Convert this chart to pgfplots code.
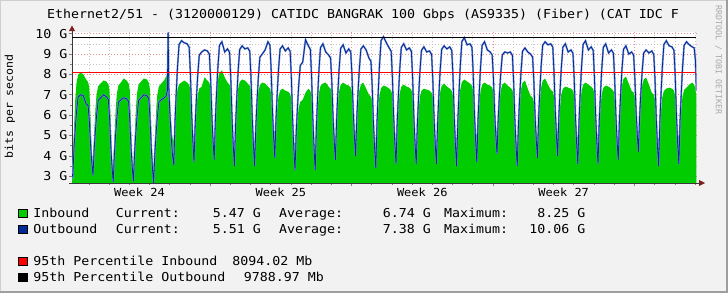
\documentclass[border=0pt]{standalone}
\usepackage{pgfplots}
\pgfplotsset{compat=1.18}
\usepackage{pgfplotstable}
\usepackage{fontspec}
\newfontfamily\dvm[FakeStretch=1.08]{DejaVu Sans Mono}
\newfontfamily\dvmw{DejaVu Sans Mono}
\definecolor{bg}{HTML}{F2F2F2}
\definecolor{inb}{HTML}{00CC00}
\definecolor{outb}{HTML}{002A97}
\definecolor{outl}{HTML}{7B93D2}
\definecolor{mgrid}{HTML}{E89090}
\definecolor{ngrid}{HTML}{C4C4C4}
\definecolor{arrowc}{HTML}{7F1F1F}
\definecolor{axisc}{HTML}{3A3A3A}
\definecolor{shadeb}{HTML}{9E9E9E}
\definecolor{shadea}{HTML}{CFCFCF}
\definecolor{wm}{HTML}{A8A8A8}

\pgfplotstableread{
d in out
0.16 3.80 3.10
0.20 3.50 3.00
0.26 5.43 4.40
0.32 6.72 5.32
0.38 7.55 6.12
0.46 7.96 6.88
0.58 8.10 7.00
0.72 8.00 6.95
0.86 7.75 6.55
0.96 7.62 6.45
1.02 7.32 5.68
1.08 5.79 4.52
1.14 4.18 3.68
1.20 3.40 3.05
1.26 5.14 4.38
1.32 6.31 5.25
1.38 7.05 6.01
1.46 7.43 6.74
1.58 7.55 6.85
1.72 7.70 7.00
1.86 7.65 6.90
1.96 7.51 6.77
2.02 7.19 5.86
2.08 5.56 4.48
2.14 3.84 3.48
2.20 3.00 2.73
2.26 4.93 4.14
2.32 6.22 5.06
2.38 7.05 5.87
2.46 7.46 6.63
2.58 7.60 6.75
2.72 7.80 6.85
2.86 7.70 6.80
2.96 7.56 6.68
3.02 7.22 5.79
3.08 5.54 4.45
3.14 3.76 3.48
3.20 2.90 2.75
3.26 4.90 4.19
3.32 6.23 5.13
3.38 7.08 5.95
3.46 7.51 6.73
3.58 7.65 6.85
3.72 7.80 7.00
3.86 7.75 6.95
3.96 7.60 6.82
4.02 7.25 5.88
4.08 5.50 4.47
4.14 3.65 3.44
4.20 2.75 2.67
4.26 4.77 4.10
4.32 6.11 5.04
4.38 6.97 5.85
4.46 7.41 6.63
4.58 7.55 6.75
4.72 7.70 6.85
4.82 7.90 6.95
4.88 8.00 7.20
4.92 8.05 10.06
4.95 7.70 7.40
5.00 6.80 6.20
5.06 5.70 5.10
5.13 4.90 4.10
5.20 4.70 3.55
5.26 5.92 5.69
5.32 6.73 7.09
5.38 7.25 8.31
5.46 7.51 9.47
5.58 7.60 9.65
5.72 7.70 9.55
5.86 7.60 9.50
5.96 7.49 9.33
6.02 7.24 8.05
6.08 5.98 6.14
6.14 4.65 4.74
6.20 4.00 3.70
6.26 5.43 5.59
6.32 6.38 6.83
6.38 6.99 7.91
6.46 7.30 8.94
6.58 7.40 9.10
6.72 7.85 9.20
6.86 7.70 9.15
6.96 7.59 8.99
7.02 7.33 7.81
7.08 6.04 6.05
7.14 4.67 4.76
7.20 4.00 3.80
7.26 5.76 5.83
7.32 6.94 7.16
7.38 7.70 8.32
7.46 8.07 9.43
7.58 8.20 9.60
7.72 7.85 9.10
7.86 7.60 9.25
7.96 7.49 9.08
8.02 7.22 7.81
8.08 5.89 5.92
8.14 4.48 4.54
8.20 3.80 3.50
8.26 5.46 5.57
8.32 6.57 6.92
8.38 7.28 8.10
8.46 7.63 9.22
8.58 7.75 9.40
8.72 7.70 9.25
8.86 7.55 9.30
8.96 7.43 9.13
9.02 7.16 7.85
9.08 5.77 5.94
9.14 4.31 4.54
9.20 3.60 3.50
9.26 5.28 5.43
9.32 6.40 6.69
9.38 7.12 7.79
9.46 7.48 8.84
9.58 7.60 9.00
9.72 7.55 9.20
9.86 7.40 9.60
9.96 7.30 9.43
10.02 7.06 8.18
10.08 5.87 6.29
10.14 4.61 4.93
10.20 4.00 3.90
10.26 5.39 5.83
10.32 6.31 7.09
10.38 6.90 8.19
10.46 7.20 9.24
10.58 7.30 9.40
10.72 7.20 9.15
10.86 7.15 9.30
10.96 7.04 9.12
11.02 6.79 7.80
11.08 5.51 5.82
11.14 4.16 4.38
11.20 3.50 3.30
11.26 4.87 5.16
11.32 5.78 6.37
11.38 6.36 7.43
11.46 6.65 8.44
11.58 6.75 8.60
11.72 7.10 9.70
11.86 7.30 9.40
11.96 7.19 9.22
12.02 6.92 7.88
12.08 5.59 5.86
12.14 4.18 4.40
12.20 3.50 3.30
12.26 5.20 5.47
12.32 6.34 6.90
12.38 7.06 8.14
12.46 7.43 9.31
12.58 7.55 9.50
12.72 7.60 9.10
12.86 7.40 8.95
12.96 7.30 8.80
13.02 7.06 7.66
13.08 5.87 5.96
13.14 4.61 4.73
13.20 4.00 3.80
13.26 5.51 5.78
13.32 6.52 7.08
13.38 7.17 8.21
13.46 7.49 9.28
13.58 7.60 9.45
13.72 7.50 9.05
13.86 7.45 9.25
13.96 7.35 9.09
14.02 7.13 7.94
14.08 5.99 6.21
14.14 4.79 4.95
14.20 4.20 4.00
14.26 5.63 5.89
14.32 6.58 7.13
14.38 7.19 8.21
14.46 7.50 9.24
14.58 7.60 9.40
14.72 7.30 9.20
14.86 7.00 8.80
14.96 6.90 8.64
15.02 6.66 7.45
15.08 5.47 5.67
15.14 4.21 4.37
15.20 3.60 3.40
15.26 5.22 5.66
15.32 6.30 7.14
15.38 6.99 8.43
15.46 7.33 9.66
15.58 7.45 9.85
15.72 7.40 9.55
15.86 7.30 9.30
15.96 7.20 9.13
16.02 6.95 7.88
16.08 5.73 5.99
16.14 4.43 4.63
16.20 3.80 3.60
16.26 5.35 5.67
16.32 6.39 7.02
16.38 7.06 8.20
16.46 7.39 9.32
16.58 7.50 9.50
16.72 7.40 9.20
16.86 7.35 9.30
16.96 7.24 9.13
17.02 7.00 7.88
17.08 5.75 5.99
17.14 4.44 4.63
17.20 3.80 3.60
17.26 5.27 5.61
17.32 6.25 6.94
17.38 6.88 8.09
17.46 7.20 9.18
17.58 7.30 9.35
17.72 7.25 9.10
17.86 7.20 9.15
17.96 7.10 8.98
18.02 6.86 7.76
18.08 5.67 5.93
18.14 4.41 4.60
18.20 3.80 3.60
18.26 5.38 5.63
18.32 6.43 6.96
18.38 7.10 8.12
18.46 7.44 9.23
18.58 7.55 9.40
18.72 7.40 9.25
18.86 7.30 9.35
18.96 7.19 9.17
19.02 6.94 7.89
19.08 5.68 5.96
19.14 4.35 4.55
19.20 3.70 3.50
19.26 5.40 5.71
19.32 6.54 7.15
19.38 7.26 8.41
19.46 7.63 9.61
19.58 7.75 9.80
19.72 7.65 9.45
19.86 7.55 9.50
19.96 7.44 9.33
20.02 7.19 8.05
20.08 5.91 6.14
20.14 4.56 4.74
20.20 3.90 3.70
20.26 5.45 5.77
20.32 6.49 7.12
20.38 7.16 8.30
20.46 7.49 9.42
20.58 7.60 9.60
20.72 7.50 9.20
20.86 7.45 9.10
20.96 7.36 8.95
21.02 7.14 7.85
21.08 6.03 6.20
21.14 4.87 5.00
21.20 4.30 4.10
21.26 5.69 5.85
21.32 6.61 7.00
21.38 7.20 8.00
21.46 7.50 8.95
21.58 7.60 9.10
21.72 7.45 9.05
21.86 7.35 9.10
21.96 7.24 8.93
22.02 6.99 7.70
22.08 5.71 5.85
22.14 4.36 4.51
22.20 3.70 3.50
22.26 5.38 5.53
22.32 6.50 6.86
22.38 7.22 8.02
22.46 7.58 9.13
22.58 7.70 9.30
22.72 7.30 9.10
22.86 6.95 9.00
22.96 6.86 8.85
23.02 6.66 7.73
23.08 5.62 6.04
23.14 4.53 4.82
23.20 4.00 3.90
23.26 5.60 5.90
23.32 6.66 7.21
23.38 7.34 8.35
23.46 7.69 9.43
23.58 7.80 9.60
23.72 7.50 9.45
23.86 7.25 9.50
23.96 7.16 9.34
24.02 6.94 8.13
24.08 5.83 6.31
24.14 4.67 4.99
24.20 4.10 4.00
24.26 5.49 5.93
24.32 6.41 7.19
24.38 7.00 8.29
24.46 7.30 9.34
24.58 7.40 9.50
24.72 7.35 9.10
24.86 7.30 9.20
24.96 7.20 9.03
25.02 6.95 7.80
25.08 5.73 5.95
25.14 4.43 4.61
25.20 3.80 3.60
25.26 5.40 5.72
25.32 6.46 7.11
25.38 7.14 8.32
25.46 7.49 9.47
25.58 7.60 9.65
25.72 7.50 9.20
25.86 7.40 9.35
25.96 7.29 9.18
26.02 7.04 7.91
26.08 5.78 6.02
26.14 4.45 4.64
26.20 3.80 3.60
26.26 5.33 5.67
26.32 6.36 7.02
26.38 7.01 8.20
26.46 7.34 9.32
26.58 7.45 9.50
26.72 7.40 9.05
26.86 7.30 9.20
26.96 7.20 9.04
27.02 6.97 7.85
27.08 5.82 6.07
27.14 4.59 4.77
27.20 4.00 3.80
27.26 5.64 5.76
27.32 6.73 7.05
27.38 7.43 8.17
27.46 7.78 9.23
27.58 7.90 9.40
27.72 7.55 9.00
27.86 7.20 9.10
27.96 7.11 8.95
28.02 6.91 7.88
28.08 5.90 6.26
28.14 4.82 5.08
28.20 4.30 4.20
28.26 5.79 5.95
28.32 6.79 7.10
28.38 7.42 8.10
28.46 7.74 9.05
28.58 7.85 9.20
28.72 7.50 9.05
28.86 7.10 9.15
28.96 7.00 8.98
29.02 6.76 7.74
29.08 5.57 5.87
29.14 4.31 4.52
29.20 3.70 3.50
29.26 5.21 5.65
29.32 6.22 7.07
29.38 6.87 8.30
29.46 7.19 9.47
29.58 7.30 9.65
29.72 7.35 9.40
29.86 7.30 9.35
29.96 7.20 9.18
30.02 6.95 7.91
30.08 5.73 6.02
30.14 4.43 4.64
30.20 3.80 3.60
30.26 5.29 5.70
30.32 6.29 7.08
30.38 6.92 8.28
30.46 7.24 9.42
30.58 7.35 9.60
30.72 7.50 9.45
30.86 7.60 9.35
30.96 7.50 9.30
31.02 7.30 8.70
31.05 7.05 7.80
31.07 6.90 7.20
}\traffic

\begin{document}
\begin{tikzpicture}[x=1bp,y=1bp]
\fill[bg] (0,0) rectangle (728,293);
\draw[shadea, line width=1bp] (0.5,1) -- (0.5,292.5) -- (727,292.5);
\draw[shadeb, line width=2bp] (0,1) -- (727,1) -- (727,293);
\begin{axis}[
  at={(72bp,110bp)}, anchor=south west, scale only axis,
  width=624.4bp, height=151bp,
  xmin=0.16, xmax=31.07, ymin=2.67, ymax=10.08,
  axis background/.style={fill=white},
  axis x line*=bottom, axis y line*=left,
  axis line style={draw=axisc, line width=0.8bp},
  xtick={7,14,21,28}, xticklabels={},
  minor xtick={1,2,...,31},
  ytick={3,4,...,10},
  yticklabels={3 G,4 G,5 G,6 G,7 G,8 G,9 G,10 G},
  minor ytick={3.5,4.5,...,9.5},
  grid=both,
  major grid style={draw=mgrid, line width=0.6bp, dash pattern=on 1bp off 2bp},
  minor grid style={draw=ngrid, line width=0.6bp, dash pattern=on 1bp off 2bp},
  tick align=outside, major tick length=3bp, minor tick length=2bp,
  tick style={draw=gray, line width=0.6bp},
  yticklabel style={font=\dvm\fontsize{12.3bp}{14bp}\selectfont, inner sep=0pt, anchor=east, xshift=-1.5bp},
  extra x ticks={3.5,10.5,17.5,24.5},
  extra x tick labels={Week 24,Week 25,Week 26,Week 27},
  extra x tick style={major tick length=0pt, grid=none,
    tick label style={font=\dvm\fontsize{11.1bp}{13bp}\selectfont, inner sep=0pt, anchor=north, yshift=-5bp}},
]
\addplot[draw=none, fill=inb] table[x=d, y=in]{\traffic} \closedcycle;
\addplot[outl, line width=1.8bp] table[x=d, y=out]{\traffic};
\addplot[outb, line width=0.8bp] table[x=d, y=out]{\traffic};
\addplot[red, line width=1bp] coordinates {(0.16,8.094) (31.07,8.094)};
\addplot[black, line width=1bp] coordinates {(0.16,9.789) (31.07,9.789)};
\end{axis}
\draw[axisc, line width=0.8bp] (72,260) -- (72,263);
\draw[axisc, line width=0.8bp] (69,110) -- (700,110);
\fill[arrowc] (69,262) -- (75,262) -- (72,267.5) -- cycle;
\fill[arrowc] (699,107) -- (699,113) -- (705,110) -- cycle;
% title and labels
\node[anchor=base west, inner sep=0pt, font=\dvm\fontsize{12.3bp}{14bp}\selectfont] at (47,274.7) {Ethernet2/51 - (3120000129) CATIDC BANGRAK 100 Gbps (AS9335) (Fiber) (CAT IDC F};
\node[rotate=90, inner sep=0pt, font=\dvm\fontsize{10.7bp}{12bp}\selectfont] at (10,186.5) {bits per second};
\node[rotate=-90, inner sep=0pt, text=wm, font=\dvmw\fontsize{8.3bp}{10bp}\selectfont] at (718.5,233) {RRDTOOL / TOBI OETIKER};
% legend
\filldraw[fill=inb, draw=black, line width=0.6bp] (17.8,75.6) rectangle (26.8,84.0);
\filldraw[fill=outb, draw=black, line width=0.6bp] (17.8,59.6) rectangle (26.8,68.0);
\filldraw[fill=red, draw=black, line width=0.6bp] (17.8,27.3) rectangle (26.8,35.7);
\filldraw[fill=black, draw=black, line width=0.6bp] (17.8,11.3) rectangle (26.8,19.7);
\begin{scope}[every node/.style={inner sep=0pt, font=\dvm\fontsize{12.3bp}{14bp}\selectfont}]
\node[anchor=base west] at (33.3,75.3) {Inbound};
\node[anchor=base west] at (33.3,59.3) {Outbound};
\node[anchor=base west] at (115.7,75.3) {Current:};
\node[anchor=base west] at (115.7,59.3) {Current:};
\node[anchor=base east] at (261,75.3) {5.47 G};
\node[anchor=base east] at (261,59.3) {5.51 G};
\node[anchor=base west] at (279,75.3) {Average:};
\node[anchor=base west] at (279,59.3) {Average:};
\node[anchor=base east] at (431,75.3) {6.74 G};
\node[anchor=base east] at (431,59.3) {7.38 G};
\node[anchor=base west] at (444,75.3) {Maximum:};
\node[anchor=base west] at (444,59.3) {Maximum:};
\node[anchor=base east] at (585.5,75.3) {8.25 G};
\node[anchor=base east] at (585.5,59.3) {10.06 G};
\node[anchor=base west] at (33.3,27.3) {95th Percentile Inbound};
\node[anchor=base east] at (312.5,27.3) {8094.02 Mb};
\node[anchor=base west] at (33.3,11.3) {95th Percentile Outbound};
\node[anchor=base east] at (324,11.3) {9788.97 Mb};
\end{scope}
\pgfresetboundingbox
\path[use as bounding box] (0,0) rectangle (728,293);
\end{tikzpicture}
\end{document}
